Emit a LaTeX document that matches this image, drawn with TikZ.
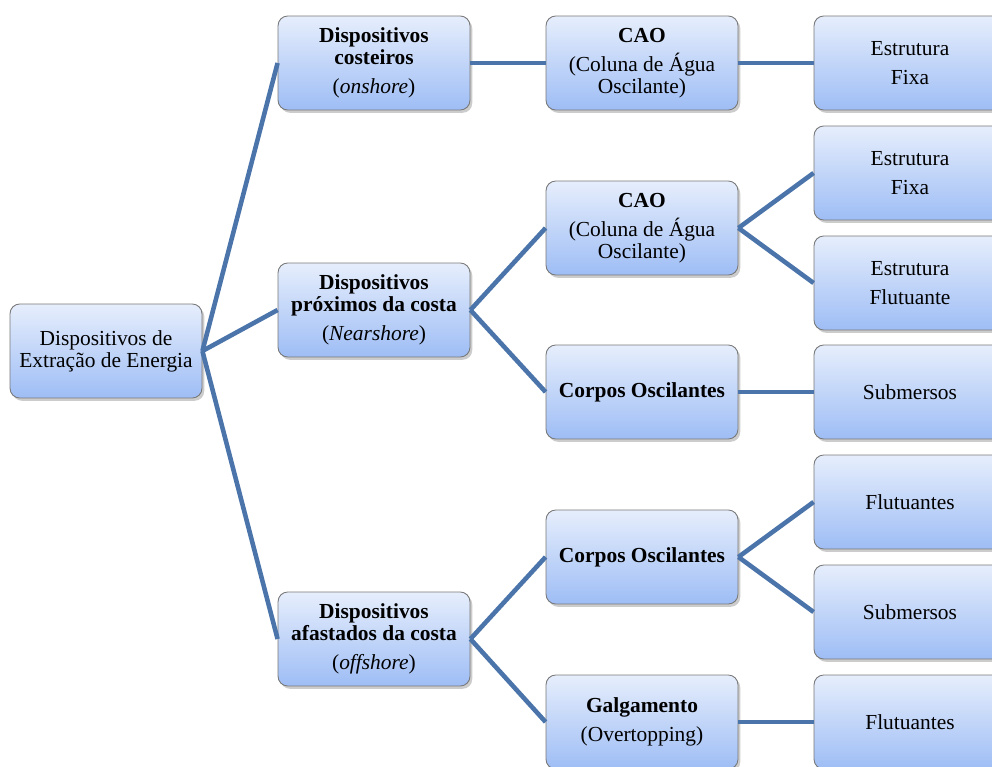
\documentclass[tikz,border=0pt]{standalone}
\usepackage{fontspec}
\setmainfont{Liberation Serif}
\usepackage{tikz}
\usetikzlibrary{shadows}
\usepackage{xcolor}

\definecolor{boxtop}{RGB}{230,238,252}
\definecolor{boxbot}{RGB}{158,189,245}
\definecolor{boxline}{RGB}{120,120,120}
\definecolor{linkblue}{RGB}{74,116,170}

\begin{document}
\begin{tikzpicture}[x=0.02cm, y=-0.02cm,
    box/.style={draw=boxline, line width=0.5pt, rounded corners=5.5pt,
        top color=boxtop, bottom color=boxbot,
        drop shadow={shadow xshift=1.3pt, shadow yshift=-1.6pt, opacity=0.4},
        minimum width=3.84cm, minimum height=1.88cm, inner sep=2pt,
        align=center, font=\fontsize{12.2}{12.5}\selectfont},
    link/.style={linkblue, line width=2.6pt}]
    \path[use as bounding box, clip] (0,0) rectangle (992,767);

    % raiz
    \node[box] (root) at (106,351) {Dispositivos de\\Extração de Energia};

    % primeiro nível
    \node[box] (onshore) at (374,63) {\textbf{Dispositivos}\\\textbf{costeiros}\\[4pt](\textit{onshore})};
    \node[box] (nearshore) at (374,310) {\textbf{Dispositivos}\\\textbf{próximos da costa}\\[4pt](\textit{Nearshore})};
    \node[box] (offshore) at (374,639) {\textbf{Dispositivos}\\\textbf{afastados da costa}\\[4pt](\textit{offshore})};

    % segundo nível
    \node[box] (caoOn) at (642,63) {\textbf{CAO}\\[4pt](Coluna de Água\\Oscilante)};
    \node[box] (caoNear) at (642,228) {\textbf{CAO}\\[4pt](Coluna de Água\\Oscilante)};
    \node[box] (corposNear) at (642,392) {\textbf{Corpos Oscilantes}};
    \node[box] (corposOff) at (642,557) {\textbf{Corpos Oscilantes}};
    \node[box] (galg) at (642,722) {\textbf{Galgamento}\\[4pt](Overtopping)};

    % terceiro nível
    \node[box] (fixaOn) at (910,63) {Estrutura\\[4pt]Fixa};
    \node[box] (fixaNear) at (910,173) {Estrutura\\[4pt]Fixa};
    \node[box] (flutNear) at (910,283) {Estrutura\\[4pt]Flutuante};
    \node[box] (subNear) at (910,392) {Submersos};
    \node[box] (flutOff) at (910,502) {Flutuantes};
    \node[box] (subOff) at (910,612) {Submersos};
    \node[box] (flutGalg) at (910,722) {Flutuantes};

    % ligações
    \draw[link] (root.east) -- (onshore.west);
    \draw[link] (root.east) -- (nearshore.west);
    \draw[link] (root.east) -- (offshore.west);
    \draw[link] (onshore.east) -- (caoOn.west);
    \draw[link] (nearshore.east) -- (caoNear.west);
    \draw[link] (nearshore.east) -- (corposNear.west);
    \draw[link] (offshore.east) -- (corposOff.west);
    \draw[link] (offshore.east) -- (galg.west);
    \draw[link] (caoOn.east) -- (fixaOn.west);
    \draw[link] (caoNear.east) -- (fixaNear.west);
    \draw[link] (caoNear.east) -- (flutNear.west);
    \draw[link] (corposNear.east) -- (subNear.west);
    \draw[link] (corposOff.east) -- (flutOff.west);
    \draw[link] (corposOff.east) -- (subOff.west);
    \draw[link] (galg.east) -- (flutGalg.west);
\end{tikzpicture}
\end{document}
